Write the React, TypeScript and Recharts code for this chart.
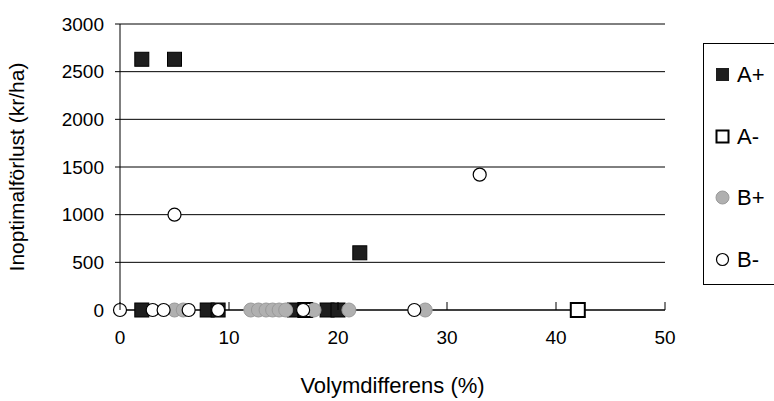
import React from "react";
import {
  ScatterChart,
  Scatter,
  XAxis,
  YAxis,
  CartesianGrid,
  Legend,
  Label,
} from "recharts";

const FONT = '"Liberation Sans", Arial, sans-serif';

const seriesNames = ["A+", "A-", "B+", "B-"];
const xTicks = [0, 10, 20, 30, 40, 50];
const yTicks = [0, 500, 1000, 1500, 2000, 2500, 3000];

const aPlus = [
  { x: 2, y: 2630 },
  { x: 5, y: 2630 },
  { x: 22, y: 600 },
  { x: 2, y: 0 },
  { x: 8, y: 0 },
  { x: 9, y: 0 },
  { x: 16, y: 0 },
  { x: 19, y: 0 },
  { x: 20, y: 0 },
];
const aMinus = [
  { x: 42, y: 0 },
  { x: 17, y: 0 },
];
const bPlus = [
  { x: 5, y: 0 },
  { x: 5.8, y: 0 },
  { x: 12, y: 0 },
  { x: 12.7, y: 0 },
  { x: 13.4, y: 0 },
  { x: 14, y: 0 },
  { x: 14.6, y: 0 },
  { x: 15.2, y: 0 },
  { x: 17.8, y: 0 },
  { x: 21, y: 0 },
  { x: 28, y: 0 },
];
const bMinus = [
  { x: 5, y: 1000 },
  { x: 33, y: 1420 },
  { x: 0, y: 0 },
  { x: 3, y: 0 },
  { x: 4, y: 0 },
  { x: 6.3, y: 0 },
  { x: 9, y: 0 },
  { x: 16.8, y: 0 },
  { x: 27, y: 0 },
];

const FilledSquare = (p: any) => (
  <rect x={p.cx - 7} y={p.cy - 7} width={14} height={14} fill="#1e1e1e" stroke="#000" strokeWidth={1} />
);
const OpenSquare = (p: any) => (
  <rect x={p.cx - 7} y={p.cy - 7} width={14} height={14} fill="#fff" stroke="#000" strokeWidth={2} />
);
const GrayCircle = (p: any) => (
  <circle cx={p.cx} cy={p.cy} r={7} fill="#b0b0b0" stroke="#999" strokeWidth={1} />
);
const OpenCircle = (p: any) => (
  <circle cx={p.cx} cy={p.cy} r={6.5} fill="#fff" stroke="#000" strokeWidth={1.2} />
);

const legendMarkers = [
  <rect x={1} y={1} width={13} height={13} fill="#1e1e1e" />,
  <rect x={1.5} y={1.5} width={12} height={12} fill="#fff" stroke="#000" strokeWidth={2} />,
  <circle cx={7.5} cy={7.5} r={6.5} fill="#b0b0b0" stroke="#999" strokeWidth={1} />,
  <circle cx={7.5} cy={7.5} r={6} fill="#fff" stroke="#000" strokeWidth={1.2} />,
];

const renderLegend = () => (
  <div
    style={{
      width: 100,
      height: 242,
      border: "1px solid #000",
      background: "#fff",
      boxSizing: "border-box",
      position: "relative",
      fontFamily: FONT,
    }}
  >
    {seriesNames.map((name, i) => (
      <div
        key={name}
        style={{
          position: "absolute",
          left: 11,
          top: 19 + i * 61.5,
          display: "flex",
          alignItems: "center",
          height: 24,
        }}
      >
        <svg width={16} height={16} style={{ display: "block" }}>
          {legendMarkers[i]}
        </svg>
        <span style={{ marginLeft: 6, fontSize: 22, color: "#000", lineHeight: "24px" }}>{name}</span>
      </div>
    ))}
  </div>
);

const XTick = (props: any) => {
  const { x, y, payload } = props;
  return (
    <g>
      <line x1={x} y1={y} x2={x} y2={y - 8} stroke="#000" strokeWidth={1} />
      <text x={x} y={y + 34} textAnchor="middle" fontSize={19} fontFamily={FONT} fill="#000">
        {payload.value}
      </text>
    </g>
  );
};

export default function App() {
  return (
    <div style={{ position: "absolute", left: 0, top: 0, width: 774, height: 401, overflow: "hidden", background: "#fff" }}>
      <ScatterChart width={774} height={401} margin={{ top: 24, right: 109, bottom: 0, left: 0 }}>
        <CartesianGrid vertical={false} stroke="#000" strokeWidth={1} />
        <XAxis
          type="number"
          dataKey="x"
          domain={[0, 50]}
          ticks={xTicks}
          height={91}
          tickSize={0}
          tickMargin={0}
          tickLine={false}
          tick={<XTick />}
          axisLine={{ stroke: "#000", strokeWidth: 1 }}
          interval={0}
        >
          <Label
            content={(p: any) => {
              const vb = p.viewBox;
              return (
                <text
                  x={vb.x + vb.width / 2}
                  y={vb.y + 83}
                  textAnchor="middle"
                  fontSize={22}
                  fontFamily={FONT}
                  fill="#000"
                >
                  Volymdifferens (%)
                </text>
              );
            }}
          />
        </XAxis>
        <YAxis
          type="number"
          dataKey="y"
          domain={[0, 3000]}
          ticks={yTicks}
          width={120}
          tickSize={5}
          tickMargin={11}
          tick={{ fontSize: 19, fontFamily: FONT, fill: "#000" }}
          tickLine={{ stroke: "#000" }}
          axisLine={{ stroke: "#000", strokeWidth: 1 }}
          interval={0}
        >
          <Label
            content={(p: any) => {
              const vb = p.viewBox;
              const cx = 24;
              const cy = vb.y + vb.height / 2;
              return (
                <text
                  x={cx}
                  y={cy}
                  textAnchor="middle"
                  fontSize={21}
                  fontFamily={FONT}
                  fill="#000"
                  transform={`rotate(-90 ${cx} ${cy})`}
                >
                  Inoptimalförlust (kr/ha)
                </text>
              );
            }}
          />
        </YAxis>
        <Legend
          layout="horizontal"
          verticalAlign="middle"
          align="center"
          content={renderLegend}
          wrapperStyle={{ position: "absolute", left: 703, top: 43, width: 100 }}
        />
        <Scatter name={seriesNames[0]} data={aPlus} shape={FilledSquare} isAnimationActive={false} />
        <Scatter name={seriesNames[1]} data={aMinus} shape={OpenSquare} isAnimationActive={false} />
        <Scatter name={seriesNames[2]} data={bPlus} shape={GrayCircle} isAnimationActive={false} />
        <Scatter name={seriesNames[3]} data={bMinus} shape={OpenCircle} isAnimationActive={false} />
      </ScatterChart>
    </div>
  );
}
